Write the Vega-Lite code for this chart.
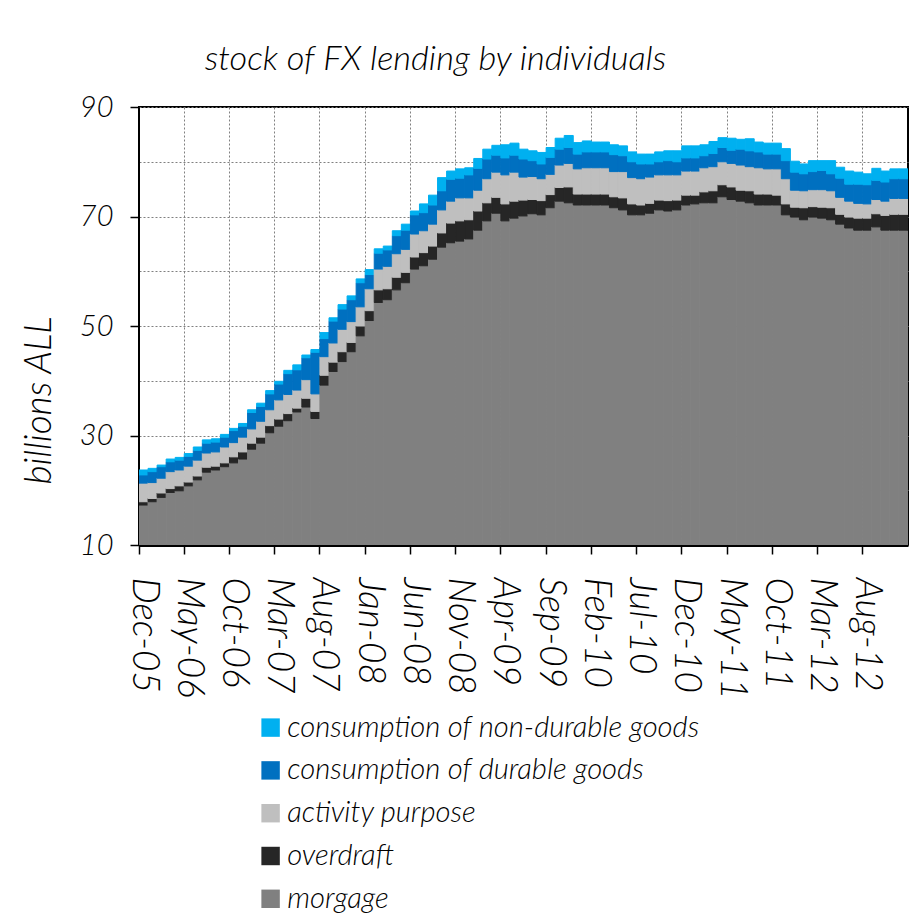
{
  "$schema": "https://vega.github.io/schema/vega-lite/v6.json",
  "width": 769,
  "height": 438,
  "autosize": {"type": "none"},
  "padding": {"left": 139, "top": 107, "right": 9, "bottom": 374},
  "background": "white",
  "title": {"text": "stock of FX lending by individuals", "font": "Lato", "fontStyle": "italic", "fontWeight": 300, "fontSize": 34.4, "color": "#000", "anchor": "middle", "dx": -88, "offset": 16},
  "datasets": {
    "series": [
      {"key": "m", "name": "morgage", "rank": 1},
      {"key": "o", "name": "overdraft", "rank": 2},
      {"key": "a", "name": "activity purpose", "rank": 3},
      {"key": "d", "name": "consumption of durable goods", "rank": 4},
      {"key": "n", "name": "consumption of non-durable goods", "rank": 5}
    ],
    "lending": [
      {"month": "Dec-05", "m": 17.3, "o": 0.6, "a": 3.4, "d": 1.5, "n": 0.9},
      {"month": "Jan-06", "m": 17.9, "o": 0.6, "a": 2.9, "d": 2.0, "n": 0.6},
      {"month": "Feb-06", "m": 18.7, "o": 0.8, "a": 2.7, "d": 2.1, "n": 0.3},
      {"month": "Mar-06", "m": 19.6, "o": 0.7, "a": 3.1, "d": 1.8, "n": 0.5},
      {"month": "Apr-06", "m": 19.9, "o": 0.9, "a": 2.9, "d": 1.8, "n": 0.5},
      {"month": "May-06", "m": 20.8, "o": 0.7, "a": 2.9, "d": 1.8, "n": 0.5},
      {"month": "Jun-06", "m": 21.9, "o": 0.7, "a": 2.9, "d": 1.8, "n": 0.6},
      {"month": "Jul-06", "m": 23.3, "o": 0.9, "a": 2.6, "d": 1.8, "n": 0.6},
      {"month": "Aug-06", "m": 23.7, "o": 0.7, "a": 2.6, "d": 1.8, "n": 0.6},
      {"month": "Sep-06", "m": 24.3, "o": 0.7, "a": 2.9, "d": 1.8, "n": 0.5},
      {"month": "Oct-06", "m": 25.0, "o": 1.1, "a": 2.6, "d": 2.2, "n": 0.4},
      {"month": "Nov-06", "m": 25.7, "o": 1.3, "a": 2.7, "d": 2.0, "n": 0.5},
      {"month": "Dec-06", "m": 27.5, "o": 1.1, "a": 2.6, "d": 3.0, "n": 0.5},
      {"month": "Jan-07", "m": 28.6, "o": 1.1, "a": 2.9, "d": 2.7, "n": 0.6},
      {"month": "Feb-07", "m": 30.5, "o": 1.3, "a": 2.9, "d": 2.9, "n": 0.6},
      {"month": "Mar-07", "m": 31.7, "o": 1.3, "a": 3.5, "d": 2.9, "n": 0.5},
      {"month": "Apr-07", "m": 32.7, "o": 1.3, "a": 3.5, "d": 3.8, "n": 0.6},
      {"month": "May-07", "m": 34.3, "o": 0.7, "a": 3.3, "d": 3.7, "n": 0.9},
      {"month": "Jun-07", "m": 35.2, "o": 1.6, "a": 3.4, "d": 4.0, "n": 0.5},
      {"month": "Jul-07", "m": 33.1, "o": 1.3, "a": 3.2, "d": 7.6, "n": 0.5},
      {"month": "Aug-07", "m": 39.2, "o": 1.8, "a": 3.4, "d": 3.3, "n": 1.1},
      {"month": "Sep-07", "m": 41.7, "o": 1.7, "a": 3.5, "d": 4.0, "n": 0.6},
      {"month": "Oct-07", "m": 43.5, "o": 1.8, "a": 4.1, "d": 3.7, "n": 0.8},
      {"month": "Nov-07", "m": 45.3, "o": 1.7, "a": 3.8, "d": 4.0, "n": 0.7},
      {"month": "Dec-07", "m": 48.2, "o": 1.8, "a": 3.5, "d": 4.4, "n": 0.7},
      {"month": "Jan-08", "m": 51.0, "o": 1.8, "a": 4.0, "d": 2.6, "n": 0.9},
      {"month": "Feb-08", "m": 54.3, "o": 2.3, "a": 3.8, "d": 2.9, "n": 0.8},
      {"month": "Mar-08", "m": 54.8, "o": 2.0, "a": 4.1, "d": 3.0, "n": 0.7},
      {"month": "Apr-08", "m": 56.6, "o": 2.3, "a": 4.3, "d": 3.3, "n": 0.9},
      {"month": "May-08", "m": 57.9, "o": 1.9, "a": 4.2, "d": 3.5, "n": 1.1},
      {"month": "Jun-08", "m": 60.4, "o": 2.2, "a": 4.2, "d": 3.5, "n": 0.7},
      {"month": "Jul-08", "m": 61.0, "o": 2.4, "a": 4.0, "d": 3.3, "n": 1.6},
      {"month": "Aug-08", "m": 62.2, "o": 2.4, "a": 4.0, "d": 3.5, "n": 1.8},
      {"month": "Sep-08", "m": 64.4, "o": 2.6, "a": 4.2, "d": 3.5, "n": 2.4},
      {"month": "Oct-08", "m": 65.2, "o": 3.6, "a": 4.0, "d": 4.0, "n": 1.5},
      {"month": "Nov-08", "m": 65.5, "o": 3.7, "a": 4.2, "d": 3.6, "n": 1.7},
      {"month": "Dec-08", "m": 65.9, "o": 3.5, "a": 4.0, "d": 4.2, "n": 1.3},
      {"month": "Jan-09", "m": 67.5, "o": 3.5, "a": 3.8, "d": 4.0, "n": 1.8},
      {"month": "Feb-09", "m": 69.2, "o": 3.3, "a": 4.4, "d": 3.6, "n": 1.8},
      {"month": "Mar-09", "m": 70.6, "o": 2.9, "a": 4.6, "d": 3.1, "n": 1.8},
      {"month": "Apr-09", "m": 69.2, "o": 3.1, "a": 5.3, "d": 3.1, "n": 2.4},
      {"month": "May-09", "m": 69.7, "o": 3.1, "a": 5.3, "d": 3.1, "n": 2.2},
      {"month": "Jun-09", "m": 70.1, "o": 2.9, "a": 4.2, "d": 3.3, "n": 1.8},
      {"month": "Jul-09", "m": 70.5, "o": 2.6, "a": 4.2, "d": 2.9, "n": 1.8},
      {"month": "Aug-09", "m": 70.3, "o": 2.6, "a": 4.0, "d": 2.7, "n": 2.1},
      {"month": "Sep-09", "m": 71.6, "o": 2.4, "a": 3.7, "d": 3.1, "n": 1.8},
      {"month": "Oct-09", "m": 72.8, "o": 2.5, "a": 4.1, "d": 2.9, "n": 2.0},
      {"month": "Nov-09", "m": 72.5, "o": 2.9, "a": 4.3, "d": 2.9, "n": 2.2},
      {"month": "Dec-09", "m": 72.1, "o": 2.0, "a": 4.6, "d": 2.7, "n": 2.1},
      {"month": "Jan-10", "m": 72.1, "o": 2.0, "a": 4.8, "d": 2.9, "n": 2.0},
      {"month": "Feb-10", "m": 72.1, "o": 2.0, "a": 4.8, "d": 2.9, "n": 1.8},
      {"month": "Mar-10", "m": 72.1, "o": 2.0, "a": 4.8, "d": 2.9, "n": 1.8},
      {"month": "Apr-10", "m": 71.6, "o": 2.0, "a": 4.6, "d": 3.1, "n": 1.8},
      {"month": "May-10", "m": 71.2, "o": 2.2, "a": 4.8, "d": 2.9, "n": 1.8},
      {"month": "Jun-10", "m": 70.3, "o": 2.0, "a": 4.8, "d": 2.9, "n": 1.8},
      {"month": "Jul-10", "m": 70.3, "o": 1.8, "a": 4.8, "d": 2.7, "n": 1.8},
      {"month": "Aug-10", "m": 70.6, "o": 1.8, "a": 4.8, "d": 2.4, "n": 1.8},
      {"month": "Sep-10", "m": 71.2, "o": 1.8, "a": 4.6, "d": 2.4, "n": 1.8},
      {"month": "Oct-10", "m": 71.0, "o": 1.9, "a": 4.7, "d": 2.6, "n": 1.8},
      {"month": "Nov-10", "m": 71.2, "o": 1.8, "a": 4.6, "d": 2.4, "n": 2.0},
      {"month": "Dec-10", "m": 72.1, "o": 1.8, "a": 4.4, "d": 2.4, "n": 2.2},
      {"month": "Jan-11", "m": 72.3, "o": 1.6, "a": 4.4, "d": 2.4, "n": 2.2},
      {"month": "Feb-11", "m": 72.5, "o": 2.0, "a": 4.4, "d": 2.2, "n": 2.0},
      {"month": "Mar-11", "m": 72.5, "o": 2.2, "a": 4.4, "d": 2.4, "n": 2.2},
      {"month": "Apr-11", "m": 73.6, "o": 2.2, "a": 4.2, "d": 2.6, "n": 1.8},
      {"month": "May-11", "m": 73.1, "o": 2.3, "a": 4.3, "d": 2.4, "n": 2.2},
      {"month": "Jun-11", "m": 72.8, "o": 2.0, "a": 4.6, "d": 2.9, "n": 1.8},
      {"month": "Jul-11", "m": 72.5, "o": 2.2, "a": 4.4, "d": 2.9, "n": 2.2},
      {"month": "Aug-11", "m": 72.1, "o": 2.0, "a": 4.8, "d": 2.9, "n": 1.8},
      {"month": "Sep-11", "m": 72.1, "o": 2.0, "a": 4.6, "d": 2.7, "n": 2.0},
      {"month": "Oct-11", "m": 72.1, "o": 1.8, "a": 4.8, "d": 2.7, "n": 2.0},
      {"month": "Nov-11", "m": 70.3, "o": 2.0, "a": 4.6, "d": 3.3, "n": 2.2},
      {"month": "Dec-11", "m": 69.9, "o": 1.8, "a": 3.1, "d": 3.3, "n": 2.0},
      {"month": "Jan-12", "m": 69.4, "o": 2.2, "a": 3.1, "d": 3.1, "n": 1.8},
      {"month": "Feb-12", "m": 69.9, "o": 1.9, "a": 3.1, "d": 3.3, "n": 2.0},
      {"month": "Mar-12", "m": 69.7, "o": 2.0, "a": 3.2, "d": 3.5, "n": 1.8},
      {"month": "Apr-12", "m": 69.4, "o": 2.2, "a": 3.1, "d": 3.1, "n": 2.4},
      {"month": "May-12", "m": 68.6, "o": 1.8, "a": 3.1, "d": 3.5, "n": 2.0},
      {"month": "Jun-12", "m": 67.9, "o": 2.0, "a": 2.9, "d": 3.1, "n": 2.4},
      {"month": "Jul-12", "m": 67.5, "o": 2.2, "a": 2.7, "d": 3.5, "n": 2.2},
      {"month": "Aug-12", "m": 67.5, "o": 2.2, "a": 2.6, "d": 3.5, "n": 2.0},
      {"month": "Sep-12", "m": 68.1, "o": 2.4, "a": 2.6, "d": 3.5, "n": 2.2},
      {"month": "Oct-12", "m": 67.5, "o": 2.7, "a": 2.6, "d": 3.5, "n": 2.0},
      {"month": "Nov-12", "m": 67.5, "o": 2.9, "a": 2.9, "d": 3.6, "n": 1.8},
      {"month": "Dec-12", "m": 67.5, "o": 2.9, "a": 2.9, "d": 3.6, "n": 1.8}
    ]
  },
  "data": {"name": "lending"},
  "transform": [
    {"fold": ["m", "o", "a", "d", "n"], "as": ["key", "value"]},
    {"lookup": "key", "from": {"data": {"name": "series"}, "key": "key", "fields": ["name", "rank"]}}
  ],
  "mark": {"type": "bar", "clip": true, "strokeWidth": 1, "opacity": 1},
  "encoding": {
    "x": {
      "field": "month", "type": "ordinal", "sort": null,
      "scale": {"paddingInner": 0, "paddingOuter": 0},
      "axis": {
        "title": null,
        "values": ["Dec-05", "May-06", "Oct-06", "Mar-07", "Aug-07", "Jan-08", "Jun-08", "Nov-08", "Apr-09", "Sep-09", "Feb-10", "Jul-10", "Dec-10", "May-11", "Oct-11", "Mar-12", "Aug-12"],
        "bandPosition": 0,
        "labelAngle": 90, "labelAlign": "left", "labelBaseline": "middle",
        "labelFont": "Lato", "labelFontStyle": "italic", "labelFontWeight": 300, "labelFontSize": 37, "labelColor": "#000",
        "labelPadding": 23, "labelOverlap": false, "labelFlush": false,
        "tickSize": 9, "tickColor": "#000", "tickWidth": 1.5,
        "domainColor": "#000", "domainWidth": 3,
        "grid": true, "gridColor": "#808080", "gridDash": [2, 2], "gridWidth": 1
      }
    },
    "y": {
      "field": "value", "type": "quantitative", "stack": "zero",
      "scale": {"domain": [10, 90], "nice": false, "zero": false},
      "axis": {
        "values": [10, 20, 30, 40, 50, 60, 70, 80, 90],
        "labelExpr": "datum.value % 20 == 10 ? datum.label : ''",
        "tickOpacity": {"condition": {"test": "datum.value % 20 == 10", "value": 1}, "value": 0},
        "tickSize": 9, "tickColor": "#000", "tickWidth": 1.5,
        "domainColor": "#000", "domainWidth": 1,
        "labelFont": "Lato", "labelFontStyle": "italic", "labelFontWeight": 300, "labelFontSize": 29, "labelColor": "#000",
        "labelPadding": 17, "labelOverlap": false,
        "grid": true, "gridColor": "#808080", "gridDash": [2, 2], "gridWidth": 1,
        "title": "billions ALL", "titleFont": "Lato", "titleFontStyle": "italic", "titleFontWeight": 300,
        "titleFontSize": 37, "titleColor": "#000",
        "titleX": -100, "titleY": 293, "titleAngle": -90, "titleAlign": "center", "titleBaseline": "middle"
      }
    },
    "color": {
      "field": "name", "type": "nominal",
      "scale": {
        "domain": ["consumption of non-durable goods", "consumption of durable goods", "activity purpose", "overdraft", "morgage"],
        "range": ["#00B0F0", "#0070C0", "#BFBFBF", "#262626", "#808080"]
      },
      "legend": {
        "title": null, "orient": "none", "legendX": 117, "legendY": 606, "direction": "vertical",
        "symbolType": "square", "symbolSize": 340, "symbolStrokeWidth": 0, "symbolOpacity": 1,
        "labelFont": "Lato", "labelFontStyle": "italic", "labelFontWeight": 300, "labelFontSize": 29.2, "labelColor": "#000",
        "labelOffset": 2, "labelLimit": 0, "rowPadding": 12.8
      }
    },
    "stroke": {
      "field": "name", "type": "nominal",
      "scale": {
        "domain": ["consumption of non-durable goods", "consumption of durable goods", "activity purpose", "overdraft", "morgage"],
        "range": ["#00B0F0", "#0070C0", "#BFBFBF", "#262626", "#808080"]
      },
      "legend": null
    },
    "order": {"field": "rank", "type": "quantitative"}
  },
  "config": {
    "view": {"stroke": "#000", "strokeWidth": 2}
  }
}
